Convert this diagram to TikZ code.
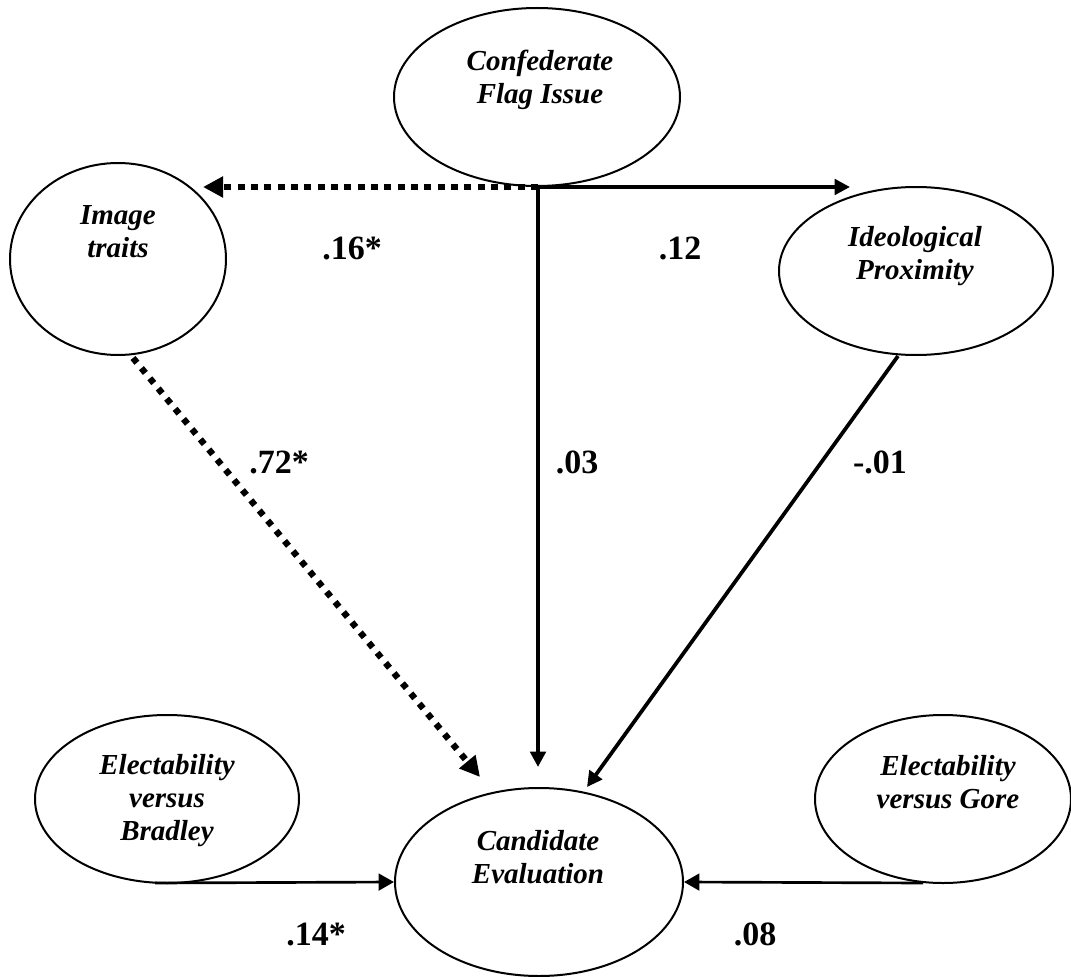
\documentclass[tikz,border=0pt]{standalone}
\usepackage{fontspec}
\setmainfont{Liberation Serif}
\usetikzlibrary{shapes.geometric,arrows.meta}
\begin{document}
\begin{tikzpicture}[x=0.75pt,y=-0.75pt,
  var/.style={ellipse, draw, line width=1.5pt, inner sep=0pt},
  vtext/.style={align=center, inner sep=0pt, font=\fontsize{21.75}{24.75}\selectfont\bfseries\itshape},
  coef/.style={anchor=base, inner sep=0pt, font=\fontsize{25.5}{30}\selectfont\bfseries},
  solidarr/.style={line width=2.8pt, -{Triangle[length=11.5pt,width=11.5pt]}},
  thinarr/.style={line width=2pt, -{Triangle[length=11.5pt,width=12.5pt]}},
  dotarr/.style={line width=5.2pt, dash pattern=on 5.2pt off 4.8pt, -{Triangle[length=15pt,width=15pt]}},
  dotdiag/.style={line width=4.8pt, dash pattern=on 4.6pt off 5.3pt, -{Triangle[length=15pt,width=15pt]}},
]
\useasboundingbox (0,0) rectangle (1071,977);

% variables
\node[var, minimum width=214.5pt, minimum height=133.5pt] (conf) at (537,97) {};
\node[var, minimum width=162pt, minimum height=144pt] (img) at (118,259) {};
\node[var, minimum width=205.5pt, minimum height=126pt] (ideo) at (916,271) {};
\node[var, minimum width=198pt, minimum height=126pt] (brad) at (167,799) {};
\node[var, minimum width=192pt, minimum height=126pt] (gore) at (943,799) {};
\node[var, minimum width=216pt, minimum height=141pt] (cand) at (539,882) {};

% texts
\node[vtext] (conft) at (540,80) {Confederate\\Flag Issue};
\node[vtext] (imgt) at (118,232) {Image\\traits};
\node[vtext] (ideot) at (915,256) {Ideological\\Proximity};
\node[vtext] (bradt) at (167,801) {Electability\\versus\\Bradley};
\node[vtext] (goret) at (948,782) {Electability\\versus Gore};
\node[vtext] (candt) at (538,857) {Candidate\\Evaluation};

% connector points
\coordinate (J) at (538,187);
\coordinate (ltip) at (203,187);
\coordinate (rtip) at (850,187);
\coordinate (vtip) at (538,767);
\coordinate (imgs) at (133,358);
\coordinate (dtip) at (480,777);
\coordinate (ideos) at (898,356);
\coordinate (itip) at (587,787);
\coordinate (brads) at (155,883);
\coordinate (gores) at (923,883);

% connectors
\draw[dotarr] (J) -- (ltip);
\draw[solidarr] (J) -- (rtip);
\draw[solidarr] (J) -- (vtip);
\draw[dotdiag] (imgs) -- (dtip);
\draw[solidarr] (ideos) -- (itip);
\draw[thinarr] (brads) -- (cand.west);
\draw[thinarr] (gores) -- (cand.east);

% coefficients
\node[coef] (c1) at (352,259) {.16*};
\node[coef] (c2) at (680,259) {.12};
\node[coef] (c3) at (279,473) {.72*};
\node[coef] (c4) at (577,473) {.03};
\node[coef] (c5) at (880,473) {-.01};
\node[coef] (c6) at (316,945) {.14*};
\node[coef] (c7) at (755,945) {.08};
\end{tikzpicture}
\end{document}
